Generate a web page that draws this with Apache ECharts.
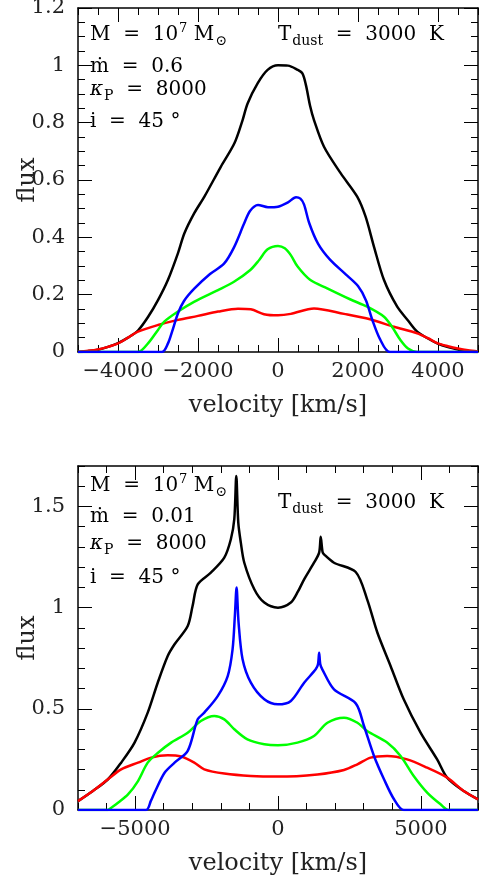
<!DOCTYPE html>
<html>
<head>
<meta charset="utf-8">
<script src="https://cdn.jsdelivr.net/npm/echarts@6/dist/echarts.min.js"></script>
<style>
  html, body { margin: 0; padding: 0; background: #fff; }
  #chart { width: 480px; height: 875px; }
</style>
</head>
<body>
<div id="chart"></div>
<script>
// upper panel, mdot = 0.6 : [velocity km/s, flux]
var topBlack = [[-5000,0],[-4750,0.003],[-4500,0.008],[-4250,0.018],[-4000,0.031],[-3750,0.05],[-3500,0.075],[-3250,0.122],[-3000,0.181],[-2750,0.252],[-2500,0.345],[-2340,0.414],[-2090,0.485],[-1840,0.542],[-1430,0.646],[-1090,0.728],[-885,0.809],[-760,0.867],[-510,0.937],[-260,0.984],[0,1.0],[250,0.999],[480,0.985],[610,0.972],[700,0.93],[800,0.86],[900,0.809],[1150,0.716],[1570,0.623],[1980,0.542],[2190,0.472],[2400,0.367],[2650,0.251],[2980,0.158],[3250,0.11],[3480,0.071],[3750,0.047],[3980,0.03],[4250,0.017],[4500,0.009],[4750,0.003],[5000,0]];
var topBlue = [[-5000,0],[-2900,0],[-2750,0.03],[-2650,0.07],[-2500,0.135],[-2350,0.178],[-2100,0.22],[-1700,0.272],[-1350,0.308],[-1100,0.365],[-850,0.447],[-700,0.492],[-500,0.513],[-250,0.505],[0,0.507],[250,0.522],[450,0.54],[560,0.535],[650,0.515],[780,0.45],[1000,0.378],[1300,0.322],[1700,0.27],[2000,0.23],[2200,0.18],[2350,0.115],[2550,0.045],[2800,0],[5000,0]];
var topGreen = [[-5000,0],[-3500,0],[-3250,0.03],[-3000,0.077],[-2850,0.105],[-2500,0.141],[-2100,0.175],[-1500,0.216],[-1100,0.245],[-700,0.285],[-470,0.321],[-260,0.358],[0,0.37],[170,0.362],[320,0.338],[490,0.298],[800,0.252],[1230,0.222],[1800,0.184],[2230,0.158],[2650,0.123],[2850,0.088],[3060,0.042],[3250,0.012],[3480,0],[5000,0]];
var topRed = [[-5000,0.001],[-4750,0.004],[-4500,0.009],[-4250,0.018],[-4000,0.03],[-3750,0.05],[-3500,0.071],[-3000,0.094],[-2500,0.112],[-2000,0.126],[-1500,0.141],[-1000,0.151],[-680,0.149],[-350,0.132],[0,0.128],[320,0.133],[900,0.152],[1650,0.133],[2300,0.114],[2900,0.088],[3480,0.065],[3750,0.048],[4000,0.03],[4250,0.02],[4500,0.012],[4750,0.006],[5000,0.002]];

// lower panel, mdot = 0.01
var botBlack = [[-7000,0.044],[-6480,0.094],[-5950,0.152],[-5490,0.234],[-5020,0.333],[-4560,0.481],[-4210,0.629],[-3860,0.761],[-3620,0.819],[-3160,0.909],[-2990,1.008],[-2810,1.115],[-2350,1.173],[-1880,1.247],[-1650,1.338],[-1530,1.437],[-1460,1.65],[-1390,1.42],[-1300,1.32],[-1180,1.222],[-830,1.091],[-480,1.025],[0,1.0],[450,1.025],[700,1.08],[915,1.14],[1260,1.222],[1440,1.272],[1495,1.35],[1560,1.275],[1620,1.262],[1960,1.222],[2720,1.176],[3120,1.041],[3480,0.876],[3940,0.712],[4400,0.547],[4990,0.382],[5570,0.25],[5920,0.16],[6500,0.094],[7000,0.053]];
var botBlue = [[-7000,0],[-4620,0],[-4450,0.045],[-4320,0.086],[-3970,0.184],[-3620,0.234],[-3160,0.292],[-2810,0.448],[-2580,0.481],[-2110,0.563],[-1760,0.662],[-1590,0.794],[-1510,0.959],[-1450,1.099],[-1380,0.926],[-1240,0.745],[-950,0.629],[-480,0.547],[0,0.522],[450,0.539],[915,0.629],[1320,0.695],[1400,0.72],[1440,0.777],[1480,0.72],[1550,0.695],[1960,0.596],[2720,0.527],[3010,0.415],[3360,0.267],[3710,0.152],[4060,0.053],[4400,0],[7000,0]];
var botGreen = [[-7000,0],[-5960,0],[-5800,0.015],[-5600,0.036],[-5250,0.077],[-4900,0.143],[-4560,0.234],[-4200,0.283],[-3740,0.333],[-3160,0.382],[-2700,0.44],[-2230,0.465],[-1880,0.448],[-1530,0.399],[-1070,0.349],[-480,0.325],[0,0.32],[680,0.333],[1260,0.366],[1730,0.431],[2310,0.456],[2780,0.431],[3120,0.39],[3820,0.333],[4290,0.267],[4750,0.168],[5220,0.086],[5690,0.028],[5980,0],[7000,0]];
var botRed = [[-7000,0.044],[-6480,0.094],[-5950,0.152],[-5490,0.201],[-4900,0.234],[-4440,0.259],[-3860,0.27],[-3390,0.264],[-2930,0.234],[-2580,0.201],[-1880,0.18],[-950,0.168],[0,0.165],[1380,0.176],[2310,0.198],[2780,0.226],[3240,0.259],[3820,0.267],[4520,0.25],[5220,0.209],[5920,0.16],[6500,0.094],[7000,0.053]];

// ticks
var topXMajor = [-4000, -2000, 0, 2000, 4000];
var topYMajor = [0, 0.2, 0.4, 0.6, 0.8, 1, 1.2];
var botXMajor = [-5000, 0, 5000];
var botYMajor = [0, 0.5, 1, 1.5];

var FONT = "'DejaVu Serif', 'Liberation Serif', serif";
var tickStyle = { color: '#000', width: 1 };

function fmt(v) {
    return v < 0 ? '\u2212' + Math.abs(v) : String(v);
}

// one side of the frame = short ticks (with line) + long ticks overlay
function sideAxes(dim, g, pos, min, max, step, majors, labelled) {
    var main = {
        type: 'value', gridIndex: g, position: pos,
        min: min, max: max, interval: step,
        axisLine: { show: true, onZero: false, lineStyle: { color: '#000', width: 1.5 } },
        axisTick: { show: true, inside: true, length: 7, lineStyle: tickStyle },
        splitLine: { show: false },
        axisLabel: { show: false }
    };
    if (labelled) {
        main.axisLabel = {
            show: true, customValues: majors, formatter: fmt,
            fontFamily: FONT, fontSize: 21, color: '#222',
            margin: dim === 'x' ? 9 : 13
        };
        main.name = dim === 'x' ? 'velocity [km/s]' : 'flux';
        main.nameLocation = 'middle';
        main.nameGap = dim === 'x' ? 42 : 38;
        main.nameMoveOverlap = false;
        main.nameTextStyle = { fontFamily: FONT, fontSize: 24, color: '#222' };
    }
    var over = {
        type: 'value', gridIndex: g, position: pos,
        min: min, max: max, interval: step,
        axisLine: { show: false, onZero: false },
        axisTick: { show: true, inside: true, length: 14, customValues: majors, lineStyle: tickStyle },
        splitLine: { show: false },
        axisLabel: { show: false }
    };
    return [main, over];
}

var xAxes = [].concat(
    sideAxes('x', 0, 'bottom', -5000, 5000, 500, topXMajor, true),
    sideAxes('x', 0, 'top', -5000, 5000, 500, topXMajor, false),
    sideAxes('x', 1, 'bottom', -7000, 7000, 1000, botXMajor, true),
    sideAxes('x', 1, 'top', -7000, 7000, 1000, botXMajor, false)
);
var yAxes = [].concat(
    sideAxes('y', 0, 'left', 0, 1.2, 0.05, topYMajor, true),
    sideAxes('y', 0, 'right', 0, 1.2, 0.05, topYMajor, false),
    sideAxes('y', 1, 'left', 0, 1.7, 0.1, botYMajor, true),
    sideAxes('y', 1, 'right', 0, 1.7, 0.1, botYMajor, false)
);

function line(data, color, xi) {
    return {
        type: 'line', xAxisIndex: xi, yAxisIndex: xi,
        data: data, symbol: 'none', smooth: 0.3,
        lineStyle: { color: color, width: 2.5 },
        silent: true, animation: false
    };
}

// annotation rows
var rich = {
    t: { fontFamily: FONT, fontSize: 20, color: '#000', lineHeight: 26 },
    sup: { fontFamily: FONT, fontSize: 13, color: '#000', lineHeight: 26, verticalAlign: 'top', padding: [0, 0, 0, 1] },
    sub: { fontFamily: FONT, fontSize: 14, color: '#000', lineHeight: 26, verticalAlign: 'bottom', padding: [0, 0, 0, 1] },
    it: { fontFamily: FONT, fontSize: 20, fontStyle: 'italic', color: '#000', lineHeight: 26 }
};
function label(x, y, text) {
    return {
        type: 'text', x: x, y: y, silent: true,
        style: { text: text, rich: rich, verticalAlign: 'middle', align: 'left' }
    };
}
function panelText(y0, mdot, rows) {
    return [
        label(90, y0 + rows[0], '{t|M  =  10}{sup|7}{t| M}{sub|\u2299}'),
        label(90, y0 + rows[1], '{t|\u1E41  =  ' + mdot + '}'),
        label(90, y0 + rows[2], '{it|\u03BA}{sub|P}{t|  =  8000}'),
        label(90, y0 + rows[3], '{t|i  =  45 \u00B0}'),
        label(278, y0 + 1, '{t|T}{sub|dust}{t|  =  3000  K}')
    ];
}

var chart = echarts.init(document.getElementById('chart'));
chart.setOption({
    animation: false,
    backgroundColor: '#fff',
    grid: [
        { left: 78, top: 8, width: 400, height: 344, outerBoundsMode: 'none' },
        { left: 78, top: 466, width: 400, height: 344, outerBoundsMode: 'none' }
    ],
    xAxis: xAxes,
    yAxis: yAxes,
    graphic: panelText(34, '0.6', [1, 33, 56, 88]).concat(panelText(502, '0.01', [-16, 15, 42, 76])),
    series: [
        line(topBlack, '#000000', 0),
        line(topRed, '#ff0000', 0),
        line(topGreen, '#00ff00', 0),
        line(topBlue, '#0000ff', 0),
        line(botBlack, '#000000', 4),
        line(botRed, '#ff0000', 4),
        line(botGreen, '#00ff00', 4),
        line(botBlue, '#0000ff', 4)
    ]
});
window.addEventListener('resize', function () {
    chart.resize();
});
</script>
</body>
</html>
